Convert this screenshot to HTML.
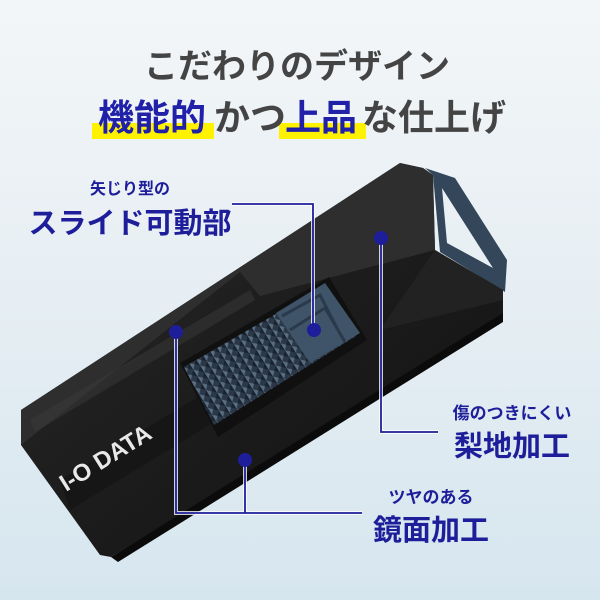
<!DOCTYPE html>
<html><head><meta charset="utf-8"><style>
html,body{margin:0;padding:0;width:600px;height:600px;overflow:hidden}
svg{display:block}
text{font-family:"Liberation Sans","Noto Sans CJK JP",sans-serif;font-weight:bold}
</style></head><body>
<svg width="600" height="600" viewBox="0 0 600 600" xmlns="http://www.w3.org/2000/svg">
<defs>
<linearGradient id="bg" x1="0" y1="0" x2="0" y2="1">
<stop offset="0" stop-color="#f3f6f8"/><stop offset="0.5" stop-color="#e6eef3"/><stop offset="1" stop-color="#d6e6ef"/>
</linearGradient>
<linearGradient id="body" x1="0" y1="0" x2="1" y2="1">
<stop offset="0" stop-color="#2a2a2a"/><stop offset="0.5" stop-color="#1c1c1c"/><stop offset="1" stop-color="#111"/>
</linearGradient>
<pattern id="grid" width="8" height="8" patternUnits="userSpaceOnUse" patternTransform="rotate(-32)">
<rect width="8" height="8" fill="#2b3848"/><path d="M0 0L4 4L0 8Z" fill="#5a6e82"/><path d="M8 0L4 4L8 8Z" fill="#1a2430"/>
</pattern>
</defs>
<rect width="600" height="600" fill="url(#bg)"/>
<!-- loop -->
<path d="M425 168 L455 178 L507 260 L505 292 L440 252 L433 175 Z M442 188 L447 243 L493 268 Z" fill="#34465a" fill-rule="evenodd"/>
<!-- body -->
<polygon points="400,163 423,168 433,175 435,250 503,290 503,315 111,557 100,555 21,445 21,410" fill="url(#body)"/>
<polygon points="400,163 423,168 433,175 435,250 260,296 240,272 21,445 21,410" fill="#2e2e2e"/>
<polygon points="435,250 503,290 503,300 380,330" fill="#222"/>
<polygon points="30,420 250,290 255,300 35,432" fill="#3a3a3a" opacity="0.5"/>
<polygon points="60,480 330,318 340,345 70,510" fill="#161616"/>
<polygon points="111,557 503,313 503,322 118,562" fill="#0b0b0b"/>
<!-- slider window -->
<polygon points="180,363 329,277 367,340 218,437" fill="#101010"/>
<polygon points="184,367 326,285 356,336 214,425" fill="url(#grid)"/>
<!-- arrow slider -->
<polygon points="276,313 325,283 360,333 310,363" fill="#3f5468"/>
<path d="M282 316 L320 295 L338 330 M290 330 L325 308 L345 342" stroke="#2a3a4c" stroke-width="3" fill="none"/>
<text x="0" y="0" font-size="24" fill="#e8e8e8" transform="translate(66,492) rotate(-32)">I-O DATA</text>
<!-- connectors -->
<g stroke="#fff" stroke-width="4" fill="none" opacity="0.8">
<path d="M232 204 H313 V330"/><path d="M381 238 V432 H438"/><path d="M176 332 V513 H362"/><path d="M245 460 V513"/>
</g>
<g stroke="#1e1e9a" stroke-width="1.8" fill="none">
<path d="M232 204 H313 V330"/><path d="M381 238 V432 H438"/><path d="M176 332 V513 H362"/><path d="M245 460 V513"/>
</g>
<g fill="#1e1e9a">
<circle cx="381" cy="238" r="7"/><circle cx="314" cy="330" r="7"/><circle cx="176" cy="332" r="7"/><circle cx="245" cy="460" r="7"/>
</g>
<!-- labels -->
<g fill="#1e1e9a">
<text x="130" y="194" font-size="16" text-anchor="middle" font-weight="normal">矢じり型の</text>
<text x="130" y="233" font-size="29" text-anchor="middle">スライド可動部</text>
<text x="512" y="419" font-size="17" text-anchor="middle" font-weight="normal">傷のつきにくい</text>
<text x="512" y="456" font-size="29" text-anchor="middle">梨地加工</text>
<text x="431" y="503" font-size="17" text-anchor="middle" font-weight="normal">ツヤのある</text>
<text x="431" y="540" font-size="29" text-anchor="middle">鏡面加工</text>
</g>
<!-- title -->
<text x="297" y="78" font-size="34" fill="#444" text-anchor="middle">こだわりのデザイン</text>
<rect x="92" y="123" width="122" height="16" fill="#fff200"/>
<rect x="279" y="123" width="87" height="16" fill="#fff200"/>
<text x="98" y="130" font-size="36" fill="#2020a8">機能的</text>
<text x="214" y="130" font-size="36" fill="#444">かつ</text>
<text x="285" y="130" font-size="36" fill="#2020a8">上品</text>
<text x="362" y="130" font-size="36" fill="#444">な仕上げ</text>
</svg>
</body></html>
